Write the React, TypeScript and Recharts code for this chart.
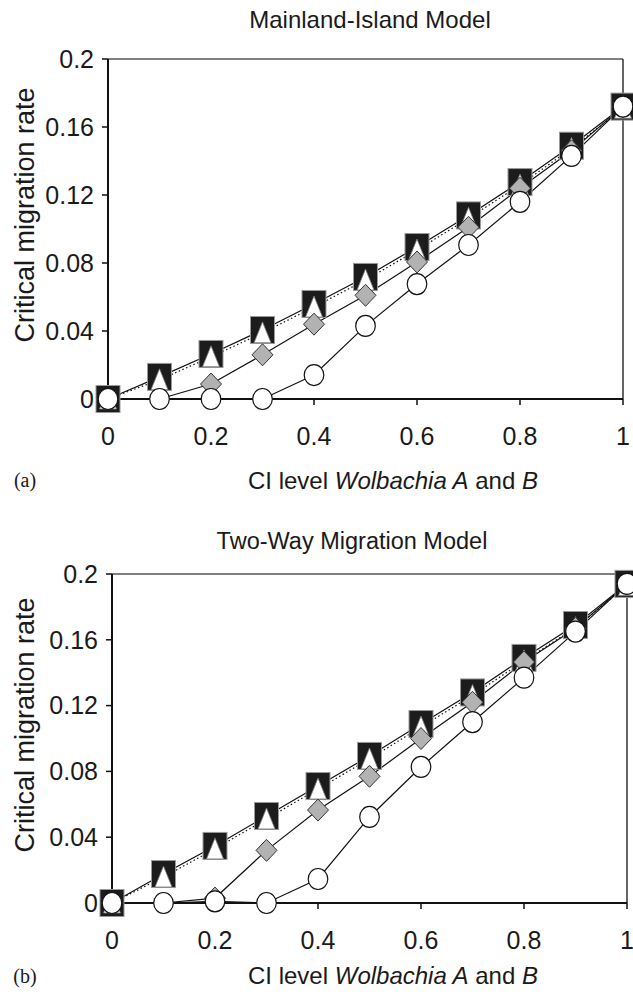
import React from "react";
import { LineChart, Line, XAxis, YAxis, ReferenceLine } from "recharts";

const ciLevels = [0, 0.1, 0.2, 0.3, 0.4, 0.5, 0.6, 0.7, 0.8, 0.9, 1];
const xTicks = [0, 0.2, 0.4, 0.6, 0.8, 1];
const xTickLabels = ["0", "0.2", "0.4", "0.6", "0.8", "1"];
const yTicks = [0, 0.04, 0.08, 0.12, 0.16, 0.2];
const yTickLabels = ["0", "0.04", "0.08", "0.12", "0.16", "0.2"];

// (a) Mainland-Island Model
const mainSquares = [0, 0.013, 0.0265, 0.0406, 0.0559, 0.0718, 0.0894, 0.108, 0.1276, 0.149, 0.172];
const mainTriangles = [0, 0.0113, 0.0248, 0.0389, 0.0541, 0.07, 0.0876, 0.1063, 0.1259, 0.1474, 0.171];
const mainDiamonds = [0, 0, 0.0088, 0.026, 0.044, 0.061, 0.0806, 0.101, 0.124, 0.146, 0.172];
const mainCircles = [0, 0, 0, 0, 0.0141, 0.043, 0.0676, 0.0906, 0.116, 0.143, 0.172];

// (b) Two-Way Migration Model
const twoSquares = [0, 0.0176, 0.0347, 0.0529, 0.0711, 0.0894, 0.1088, 0.128, 0.149, 0.169, 0.194];
const twoTriangles = [0, 0.0158, 0.0329, 0.0511, 0.0693, 0.0876, 0.107, 0.1262, 0.1472, 0.1674, 0.193];
const twoDiamonds = [0, 0, 0.003, 0.032, 0.0565, 0.077, 0.1, 0.122, 0.1465, 0.167, 0.194];
const twoCircles = [0, 0, 0.001, 0, 0.0146, 0.0523, 0.0827, 0.11, 0.137, 0.165, 0.194];

const FONT = "'Liberation Sans', Arial, Helvetica, sans-serif";

const build = (sq: number[], tr: number[], di: number[], ci: number[]) =>
  ciLevels.map((x, i) => ({ x, sq: sq[i], tr: tr[i], di: di[i], ci: ci[i] }));

const SquareDot = (p: any) => {
  const { cx, cy, index } = p;
  if (cx == null || cy == null) return <g key={`s${index}`} />;
  return (
    <rect key={`s${index}`} x={cx - 12} y={cy - 13.5} width={24} height={27}
      fill="#1c1c1c" stroke="#9a9a9a" strokeWidth={1} />
  );
};
const TriangleDot = (p: any) => {
  const { cx, cy, index } = p;
  if (cx == null || cy == null) return <g key={`t${index}`} />;
  return (
    <polygon key={`t${index}`}
      points={`${cx},${cy - 11} ${cx + 8.5},${cy + 10} ${cx - 8.5},${cy + 10}`}
      fill="#ffffff" stroke="#777" strokeWidth={0.8} />
  );
};
const DiamondDot = (p: any) => {
  const { cx, cy, index } = p;
  if (cx == null || cy == null) return <g key={`d${index}`} />;
  return (
    <polygon key={`d${index}`}
      points={`${cx},${cy - 11} ${cx + 10.5},${cy} ${cx},${cy + 11} ${cx - 10.5},${cy}`}
      fill="#b2b2b2" stroke="#333" strokeWidth={1} />
  );
};
const CircleDot = (p: any) => {
  const { cx, cy, index } = p;
  if (cx == null || cy == null) return <g key={`c${index}`} />;
  return (
    <ellipse key={`c${index}`} cx={cx} cy={cy} rx={9.8} ry={10.5}
      fill="#ffffff" stroke="#111" strokeWidth={1.2} />
  );
};

const tickStyle = { fontFamily: FONT, fontSize: 25, fill: "#1a1a1a" };

function Panel({ data, margin }: { data: any[]; margin: any }) {
  return (
    <LineChart width={633} height={470} data={data} margin={margin}>
      <XAxis type="number" dataKey="x" domain={[0, 1]} ticks={xTicks}
        tickFormatter={(v: number) => xTickLabels[xTicks.indexOf(v)] ?? String(v)}
        axisLine={{ stroke: "#111", strokeWidth: 2 }}
        tickLine={{ stroke: "#111", strokeWidth: 1.5 }}
        tickSize={6} tickMargin={22} height={40} tick={tickStyle} interval={0} />
      <YAxis type="number" domain={[0, 0.2]} ticks={yTicks}
        tickFormatter={(v: number) => yTickLabels[yTicks.indexOf(v)] ?? String(v)}
        axisLine={{ stroke: "#111", strokeWidth: 2 }}
        tickLine={{ stroke: "#111", strokeWidth: 1.5 }}
        tickSize={6} tickMargin={8} width={70} tick={tickStyle} interval={0} />
      <ReferenceLine y={0.2} stroke="#555" strokeWidth={1.5} />
      <ReferenceLine x={1} stroke="#333" strokeWidth={1.5} />
      <Line dataKey="sq" type="linear" stroke="#111" strokeWidth={1.2} dot={SquareDot} activeDot={false} isAnimationActive={false} />
      <Line dataKey="tr" type="linear" stroke="#111" strokeWidth={1.2} strokeDasharray="1.5 2.5" dot={TriangleDot} activeDot={false} isAnimationActive={false} />
      <Line dataKey="di" type="linear" stroke="#111" strokeWidth={1.2} dot={DiamondDot} activeDot={false} isAnimationActive={false} />
      <Line dataKey="ci" type="linear" stroke="#111" strokeWidth={1.2} dot={CircleDot} activeDot={false} isAnimationActive={false} />
    </LineChart>
  );
}

const abs = (s: any): React.CSSProperties => ({ position: "absolute", whiteSpace: "nowrap", color: "#1a1a1a", ...s });

export default function App() {
  const mainData = build(mainSquares, mainTriangles, mainDiamonds, mainCircles);
  const twoData = build(twoSquares, twoTriangles, twoDiamonds, twoCircles);
  const xTitle = (
    <span>CI level <i>Wolbachia A</i> and <i>B</i></span>
  );
  return (
    <div style={{ position: "absolute", left: 0, top: 0, width: 633, height: 996, background: "#fff", overflow: "hidden" }}>
      <div style={{ position: "absolute", left: 0, top: 0 }}>
        <Panel data={mainData} margin={{ top: 59, right: 10, bottom: 31, left: 38 }} />
      </div>
      <div style={{ position: "absolute", left: 0, top: 500 }}>
        <Panel data={twoData} margin={{ top: 74, right: 6, bottom: 27, left: 42 }} />
      </div>

      <div style={abs({ left: 370, top: 20, transform: "translate(-50%,-50%)", fontFamily: FONT, fontSize: 24 })}>Mainland-Island Model</div>
      <div style={abs({ left: 352, top: 541, transform: "translate(-50%,-50%)", fontFamily: FONT, fontSize: 23.5 })}>Two-Way Migration Model</div>

      <div style={abs({ left: 25, top: 215, transform: "translate(-50%,-50%) rotate(-90deg)", fontFamily: FONT, fontSize: 27 })}>Critical migration rate</div>
      <div style={abs({ left: 25, top: 725, transform: "translate(-50%,-50%) rotate(-90deg)", fontFamily: FONT, fontSize: 27 })}>Critical migration rate</div>

      <div style={abs({ left: 393, top: 481, transform: "translate(-50%,-50%)", fontFamily: FONT, fontSize: 24 })}>{xTitle}</div>
      <div style={abs({ left: 393, top: 976, transform: "translate(-50%,-50%)", fontFamily: FONT, fontSize: 24 })}>{xTitle}</div>

      <div style={abs({ left: 25, top: 480, transform: "translate(-50%,-50%)", fontFamily: "'Liberation Serif', 'Times New Roman', serif", fontSize: 20 })}>(a)</div>
      <div style={abs({ left: 25, top: 976, transform: "translate(-50%,-50%)", fontFamily: "'Liberation Serif', 'Times New Roman', serif", fontSize: 20 })}>(b)</div>
    </div>
  );
}
